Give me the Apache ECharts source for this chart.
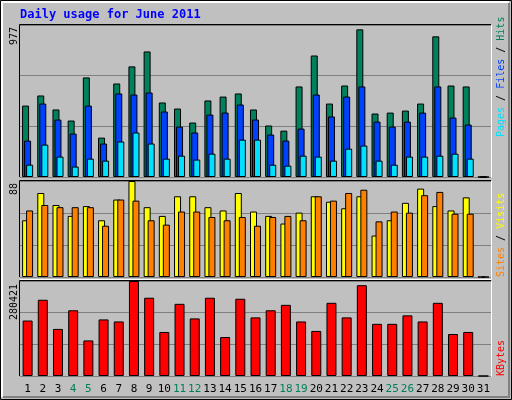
<!DOCTYPE html>
<html><head><meta charset="utf-8">
<script src="https://cdn.jsdelivr.net/npm/echarts@6/dist/echarts.min.js"></script>
<style>html,body{margin:0;padding:0;background:#c0c0c0}#c{width:512px;height:400px}</style>
</head><body><div id="c"></div>
<script>
const days = ['1','2','3','4','5','6','7','8','9','10','11','12','13','14','15','16','17','18','19','20','21','22','23','24','25','26','27','28','29','30','31'];
const weekend = ['4','5','11','12','18','19','25','26'];
const hits  = [459,524,434,363,640,253,601,711,807,479,440,350,492,517,537,434,331,298,582,781,472,588,949,408,414,427,472,904,588,582,0];
const files = [234,472,369,279,459,215,537,530,543,421,324,286,401,414,466,369,273,234,311,530,389,517,582,356,324,356,414,582,382,337,0];
const pages = [79,208,131,67,118,105,228,286,215,118,137,112,150,118,240,240,79,73,137,131,105,182,202,105,79,131,131,137,150,118,0];
const visits = [52,77,66,56,65,52,71,88,64,56,74,74,64,61,77,60,56,49,59,74,69,63,74,38,52,68,81,65,61,73,0];
const sites  = [61,66,64,64,64,47,71,70,52,48,60,60,55,52,55,47,55,56,52,74,70,77,80,51,60,59,75,78,58,58,0];
const kbytes = [163700,225000,139000,194000,105000,167000,161000,280421,231000,130000,213000,170000,231000,115000,228000,173000,194000,210000,161000,133000,216000,173000,268000,154000,154000,179000,161000,216000,124000,130000,0];
const maxHits = 977, maxVisits = 88, maxKB = 280421;

const mono = 'DejaVu Sans Mono';
const grids = [
  {left:20,right:21,top:25,height:152},
  {left:20,right:21,top:181,height:96},
  {left:20,right:21,top:281,height:95}
];
function xa(i,show){return {type:'category',gridIndex:i,data:days,boundaryGap:true,
  axisLine:{show:false},axisTick:{show:false},splitLine:{show:false},
  axisLabel:{show:show,interval:0,margin:8,fontFamily:mono,fontSize:11,
    color:(v)=>weekend.includes(v)?'#00805a':'#000000'}};}
function ya(i,max){return {type:'value',gridIndex:i,min:0,max:max,interval:max/3,
  axisLine:{show:false},axisTick:{show:false},axisLabel:{show:false},
  splitLine:{show:true,lineStyle:{color:'#808080',width:1}}};}
const bs = {borderColor:'#000',borderWidth:1};
function bar(name,data,xi,color,w,gap){return {name,type:'bar',xAxisIndex:xi,yAxisIndex:xi,data,
  barWidth:w,barGap:gap,itemStyle:Object.assign({color},bs),silent:true,animation:false};}
function vtext(x,y,align,parts){
  return {type:'text',x:x,y:y,rotation:Math.PI/2,style:{text:parts.map(p=>'{'+p[1]+'|'+p[0]+'}').join(''),
    align:align,verticalAlign:'middle',font:'10px '+mono,
    rich:Object.fromEntries(parts.map(p=>[p[1],{fill:p[2],fontFamily:mono,fontSize:10}]))}};
}
const chart = echarts.init(document.getElementById('c'));
chart.setOption({
  backgroundColor:'#c0c0c0',animation:false,
  grid:grids,
  xAxis:[xa(0,false),xa(1,false),xa(2,true)],
  yAxis:[ya(0,maxHits),ya(1,maxVisits),ya(2,maxKB)],
  series:[
    bar('Hits',hits,0,'#00805c',7,'-71%'),
    bar('Files',files,0,'#0040ff',7,'-71%'),
    bar('Pages',pages,0,'#00e0ff',7,'-71%'),
    bar('Visits',visits,1,'#ffff00',7,'-43%'),
    bar('Sites',sites,1,'#ff8000',7,'-43%'),
    bar('KBytes',kbytes,2,'#ff0000',10,'0%')
  ],
  graphic:[
    {type:'rect',shape:{x:0.5,y:0.5,width:511,height:399},style:{fill:'none',stroke:'#000'}},
    {type:'polyline',shape:{points:[[2,397],[2,2],[509,2]]},style:{stroke:'#fff',lineWidth:2}},
    {type:'polyline',shape:{points:[[3,397],[509,397],[509,3]]},style:{stroke:'#808080',lineWidth:2}},
    {type:'polyline',shape:{points:[[19.5,177],[19.5,24.5],[491,24.5]]},style:{stroke:'#000',lineWidth:1}},
    {type:'polyline',shape:{points:[[20,177.5],[491.5,177.5],[491.5,25]]},style:{stroke:'#fff',lineWidth:1}},
    {type:'polyline',shape:{points:[[19.5,277],[19.5,180.5],[491,180.5]]},style:{stroke:'#000',lineWidth:1}},
    {type:'polyline',shape:{points:[[20,279.5],[491.5,279.5],[491.5,181]]},style:{stroke:'#fff',lineWidth:1}},
    {type:'polyline',shape:{points:[[19.5,376],[19.5,280.5],[491,280.5]]},style:{stroke:'#000',lineWidth:1}},
    {type:'polyline',shape:{points:[[20,376.5],[491.5,376.5],[491.5,281]]},style:{stroke:'#fff',lineWidth:1}},
    {type:'text',x:20,y:15,style:{text:'Daily usage for June 2011',fill:'#0000ff',font:'bold 12px '+mono,verticalAlign:'middle'}},
    vtext(14,27,'right',[['977','a','#000']]),
    vtext(14,183,'right',[['88','a','#000']]),
    vtext(14,284,'right',[['280421','a','#000']]),
    vtext(501,137,'left',[['Pages','p','#00e0ff'],[' / ','s','#000'],['Files','f','#0040ff'],[' / ','t','#000'],['Hits','h','#00805c']]),
    vtext(501,277,'left',[['Sites','a','#ff8000'],[' / ','s','#000'],['Visits','v','#ffff00']]),
    vtext(501,376,'left',[['KBytes','k','#ff0000']])
  ]
});
</script></body></html>
